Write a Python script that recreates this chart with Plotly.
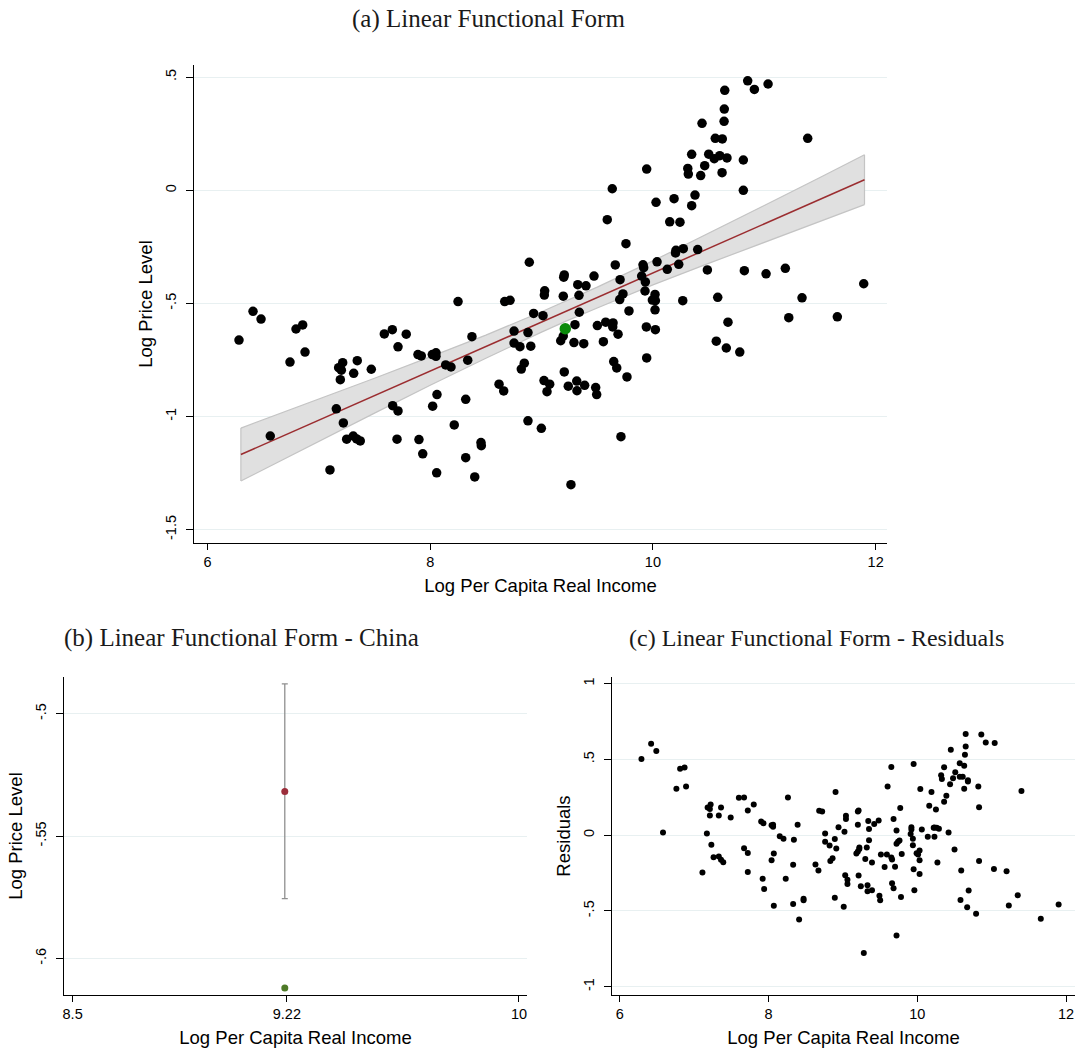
import plotly.graph_objects as go

# ---------------- Panel (a) data: log per capita real income vs log price level
income = [6.283, 6.409, 6.481, 6.564, 6.795, 6.855, 6.741, 6.876, 7.100, 7.157, 7.220, 7.250, 7.309, 7.340, 7.372,
          7.178, 7.214, 7.202, 7.193, 7.313, 7.345, 7.471, 7.588, 7.660, 7.785, 7.711, 7.663, 7.711, 7.702, 7.890,
          7.920, 8.019, 8.052, 8.052, 8.022, 8.061, 7.899, 7.933, 8.058, 8.890, 8.250, 8.669, 8.717, 9.204, 9.199,
          9.471, 9.325, 9.399, 9.028, 9.025, 9.195, 9.336, 9.662, 9.705, 9.911, 9.917, 9.899, 9.932, 10.037, 9.731,
          9.702, 9.929, 10.019, 9.995, 10.022, 10.019, 9.785, 8.929, 9.013, 9.339, 8.753, 8.878, 8.375, 9.300, 9.195,
          9.172, 9.501, 9.576, 9.642, 9.639, 9.687, 9.941, 10.022, 9.291, 9.379, 9.555, 8.753, 8.806, 8.903, 8.139,
          8.187, 8.337, 8.845, 8.818, 9.944, 9.648, 9.675, 9.767, 9.204, 8.618, 8.660, 9.022, 9.073, 9.049, 9.240,
          9.316, 9.318, 9.387, 9.486, 9.495, 8.319, 8.216, 8.878, 8.998, 9.713, 8.456, 8.459, 8.319, 8.400, 9.264,
          10.851, 10.911, 11.034, 10.645, 10.641, 10.639, 10.441, 10.560, 10.623, 10.348, 10.501, 10.551, 10.600,
          10.665, 10.812, 10.465, 10.313, 10.318, 10.429, 10.621, 9.944, 9.635, 10.812, 10.378, 10.190, 10.028,
          10.348, 9.590, 10.151, 10.243, 9.758, 10.207, 10.273, 10.402, 10.203, 10.129, 10.232, 10.489, 10.821,
          11.016, 11.189, 10.268, 10.582, 11.893, 11.339, 11.220, 11.656, 10.674, 10.569, 10.659, 10.780, 11.390]
price = [-0.662, -0.535, -0.569, -1.086, -0.613, -0.595, -0.759, -0.715, -1.236, -0.966, -1.028, -1.100, -1.086, -1.099,
         -1.108, -0.784, -0.762, -0.795, -0.837, -0.809, -0.753, -0.791, -0.635, -0.616, -0.636, -0.692, -0.952, -0.975,
         -1.100, -0.726, -0.732, -0.726, -0.718, -0.734, -0.954, -0.903, -1.102, -1.165, -1.249, -0.318, -0.492, -0.492,
         -0.486, -0.374, -0.384, -0.379, -0.417, -0.422, -0.444, -0.463, -0.468, -0.464, -0.330, -0.395, -0.329, -0.342,
         -0.379, -0.405, -0.316, -0.458, -0.483, -0.445, -0.460, -0.485, -0.488, -0.528, -0.533, -0.544, -0.554, -0.539,
         -0.622, -0.629, -0.647, -0.594, -0.644, -0.665, -0.598, -0.583, -0.586, -0.604, -0.636, -0.604, -0.616, -0.673,
         -0.678, -0.669, -0.675, -0.691, -0.689, -0.772, -0.781, -0.751, -0.764, -0.790, -0.741, -0.757, -0.785, -0.825,
         -0.803, -0.857, -0.887, -0.841, -0.857, -0.890, -0.866, -0.843, -0.886, -0.862, -0.872, -0.903, -0.924, -1.037,
         -1.019, -1.052, -1.089, -1.115, -1.129, -1.182, -1.267, -1.301, 0.484, 0.446, 0.470, 0.442, 0.359, 0.305,
         0.296, 0.230, 0.227, 0.159, 0.160, 0.140, 0.153, 0.143, 0.134, 0.109, 0.097, 0.072, 0.065, 0.078, 0.094, 0.007,
         0.000, -0.021, -0.037, -0.053, -0.068, -0.130, -0.139, -0.141, -0.236, -0.265, -0.258, -0.262, -0.277, -0.349,
         -0.327, -0.352, -0.355, -0.369, -0.345, -0.488, -0.473, -0.413, -0.475, -0.563, -0.559, -0.583, -0.667, -0.697,
         -0.715, 0.230]

# China (highlighted)
china_income = [9.213]
china_price = [-0.612]

# Fitted line with 95% confidence band
band_x = [6.3, 7.0, 7.5, 8.0, 8.5, 9.0, 9.22, 9.5, 10.0, 10.5, 11.0, 11.5, 11.9]
band_fit = [-1.168, -1.016, -0.908, -0.799, -0.691, -0.582, -0.534, -0.474, -0.365, -0.257, -0.148, -0.040, 0.047]
band_low = [-1.285, -1.109, -0.985, -0.862, -0.742, -0.627, -0.578, -0.520, -0.418, -0.323, -0.229, -0.137, -0.063]
band_high = [-1.051, -0.923, -0.831, -0.736, -0.640, -0.537, -0.490, -0.428, -0.312, -0.191, -0.067, 0.057, 0.157]

# ---------------- Panel (b): China prediction with CI
china_fit = [-0.5318]
china_ci_low = [-0.5755]
china_ci_high = [-0.4878]

# ---------------- Panel (c): residuals
resid_x = [6.29, 6.42, 6.49, 6.58, 6.76, 6.81, 6.87, 6.89, 7.11, 7.17, 7.18, 7.21, 7.22, 7.21, 7.23, 7.26, 7.33, 7.33,
           7.36, 7.39, 7.36, 7.49, 7.60, 7.67, 7.67, 7.72, 7.72, 7.72, 7.80, 7.90, 7.93, 7.92, 7.94, 8.04, 8.06, 8.06,
           8.04, 8.07, 8.07, 8.15, 8.20, 8.23, 8.26, 8.33, 8.34, 8.33, 8.39, 8.41, 8.47, 8.47, 8.63, 8.67, 8.68, 8.72,
           8.76, 8.76, 8.82, 8.83, 8.86, 8.89, 8.91, 8.90, 8.94, 8.89, 9.01, 9.02, 9.03, 9.06, 9.06, 9.04, 9.04, 9.18,
           9.20, 9.22, 9.22, 9.20, 9.20, 9.21, 9.21, 9.24, 9.28, 9.30, 9.32, 9.33, 9.33, 9.34, 9.35, 9.35, 9.39, 9.39,
           9.42, 9.48, 9.49, 9.50, 9.51, 9.56, 9.59, 9.60, 9.65, 9.65, 9.66, 9.66, 9.68, 9.68, 9.70, 9.72, 9.72, 9.74,
           9.76, 9.72, 9.77, 9.78, 9.79, 9.91, 9.92, 9.92, 9.94, 9.94, 9.95, 9.95, 9.96, 9.99, 10.01, 10.03, 10.03,
           10.03, 10.04, 10.06, 10.14, 10.16, 10.19, 10.22, 10.23, 10.26, 10.29, 10.23, 10.25, 10.27, 10.32, 10.33,
           10.36, 10.36, 10.39, 10.42, 10.44, 10.45, 10.48, 10.50, 10.51, 10.57, 10.57, 10.59, 10.58, 10.61, 10.63,
           10.63, 10.64, 10.65, 10.65, 10.67, 10.68, 10.68, 10.69, 10.79, 10.82, 10.83, 10.83, 10.86, 10.92, 11.03,
           11.04, 11.20, 11.23, 11.35, 11.40, 11.66, 11.90]
resid_y = [0.503, 0.603, 0.556, 0.018, 0.307, 0.439, 0.446, 0.322, -0.247, 0.011, 0.183, 0.172, 0.203, 0.130, -0.064,
           -0.146, 0.130, -0.141, -0.163, -0.179, 0.183, 0.117, 0.247, 0.249, -0.086, 0.163, -0.117, -0.243, 0.203,
           0.091, 0.079, -0.287, -0.355, 0.066, 0.068, 0.055, -0.166, -0.121, -0.466, -0.007, -0.024, -0.287, 0.249,
           -0.196, -0.031, -0.455, 0.068, -0.556, -0.419, -0.430, -0.194, -0.234, 0.161, 0.157, 0.011, -0.044, -0.068,
           -0.170, -0.152, -0.026, -0.088, 0.285, 0.053, -0.413, -0.472, 0.022, -0.265, -0.322, -0.294, 0.128, 0.106,
           -0.121, -0.108, -0.082, -0.091, 0.068, 0.157, 0.163, -0.267, -0.338, -0.777, -0.157, -0.082, -0.331, -0.371,
           0.093, 0.040, -0.033, -0.181, -0.364, 0.073, 0.097, -0.400, -0.430, -0.128, -0.210, -0.128, 0.322, 0.450,
           -0.148, -0.161, -0.318, 0.106, -0.351, -0.208, 0.031, -0.057, -0.044, -0.035, -0.662, 0.179, -0.408, -0.124,
           0.007, 0.053, 0.038, -0.024, -0.066, -0.225, 0.470, -0.364, -0.119, -0.128, -0.102, -0.166, -0.256, 0.305,
           0.038, -0.011, 0.194, 0.285, 0.049, 0.051, 0.049, 0.042, -0.011, 0.170, -0.181, 0.395, 0.371, 0.448, 0.221,
           0.260, 0.018, 0.336, 0.563, 0.375, -0.095, 0.415, 0.386, 0.475, -0.234, -0.428, 0.386, 0.459, 0.307, 0.530,
           0.585, 0.667, -0.475, 0.362, 0.355, -0.366, -0.519, 0.322, 0.185, -0.170, 0.664, 0.611, -0.223, 0.609,
           -0.238, -0.464, -0.397, 0.291, -0.552, -0.457]

# tick definitions
a_xticks = [6, 8, 10, 12]
a_yticks = [0.5, 0, -0.5, -1, -1.5]
a_ytext = [".5", "0", "-.5", "-1", "-1.5"]
b_xticks = [8.5, 9.22, 10]
b_xtext = ["8.5", "9.22", "10"]
b_yticks = [-0.5, -0.55, -0.6]
b_ytext = ["-.5", "-.55", "-.6"]
c_xticks = [6, 8, 10, 12]
c_yticks = [1, 0.5, 0, -0.5, -1]
c_ytext = ["1", ".5", "0", "-.5", "-1"]

W, H = 1084, 1053
SANS = "Liberation Sans, Arial, sans-serif"
SERIF = "Liberation Serif, Times New Roman, serif"
GRID = "#e8f0f1"
AX_TITLE = 18.5
TICK = 14.5
TITLE = 25

fig = go.Figure()

# panel (a)
fig.add_trace(go.Scatter(x=band_x, y=band_low, mode="lines", line=dict(color="#c4c4c4", width=1.2),
                         xaxis="x", yaxis="y", showlegend=False, hoverinfo="skip"))
fig.add_trace(go.Scatter(x=band_x, y=band_high, mode="lines", line=dict(color="#c4c4c4", width=1.2),
                         fill="tonexty", fillcolor="#e0e0e0", xaxis="x", yaxis="y", showlegend=False,
                         hoverinfo="skip"))
fig.add_trace(go.Scatter(x=[band_x[0], band_x[0]], y=[band_low[0], band_high[0]], mode="lines",
                         line=dict(color="#c4c4c4", width=1.2), xaxis="x", yaxis="y", showlegend=False))
fig.add_trace(go.Scatter(x=[band_x[-1], band_x[-1]], y=[band_low[-1], band_high[-1]], mode="lines",
                         line=dict(color="#c4c4c4", width=1.2), xaxis="x", yaxis="y", showlegend=False))
fig.add_trace(go.Scatter(x=band_x, y=band_fit, mode="lines", line=dict(color="#9b2d30", width=1.5),
                         xaxis="x", yaxis="y", showlegend=False))
fig.add_trace(go.Scatter(x=income, y=price, mode="markers", marker=dict(color="black", size=9.5),
                         xaxis="x", yaxis="y", showlegend=False))
fig.add_trace(go.Scatter(x=china_income, y=china_price, mode="markers", marker=dict(color="#0a8a0a", size=11.5),
                         xaxis="x", yaxis="y", showlegend=False))

# panel (b)
fig.add_trace(go.Scatter(
    x=china_income, y=china_fit, mode="markers",
    marker=dict(color="#9b2d3a", size=7),
    error_y=dict(type="data", symmetric=False,
                 array=[china_ci_high[0] - china_fit[0]],
                 arrayminus=[china_fit[0] - china_ci_low[0]],
                 color="#8f8f8f", thickness=1.3, width=3),
    xaxis="x2", yaxis="y2", showlegend=False))
fig.add_trace(go.Scatter(x=china_income, y=china_price, mode="markers", marker=dict(color="#4e7a27", size=7),
                         xaxis="x2", yaxis="y2", showlegend=False))

# panel (c)
fig.add_trace(go.Scatter(x=resid_x, y=resid_y, mode="markers", marker=dict(color="black", size=6),
                         xaxis="x3", yaxis="y3", showlegend=False))


def xax(domain, rng, tickvals, anchor, ticktext=None):
    d = dict(domain=domain, range=rng, tickvals=tickvals, showgrid=False, zeroline=False, anchor=anchor,
             showline=True, linecolor="black", linewidth=1, ticks="outside", ticklen=6, tickcolor="black",
             tickfont=dict(family=SANS, size=TICK, color="black"),
             title=dict(text="Log Per Capita Real Income", font=dict(family=SANS, size=AX_TITLE, color="black"),
                        standoff=9))
    if ticktext:
        d["ticktext"] = ticktext
    return d


def yax(domain, rng, tickvals, ticktext, title, anchor):
    return dict(domain=domain, range=rng, tickvals=tickvals, ticktext=ticktext, tickangle=-90,
                showgrid=True, gridcolor=GRID, gridwidth=1, zeroline=False, anchor=anchor,
                showline=True, linecolor="black", linewidth=1, ticks="outside", ticklen=7, tickcolor="black",
                ticklabelstandoff=4,
                tickfont=dict(family=SANS, size=TICK, color="black"),
                title=dict(text=title, font=dict(family=SANS, size=AX_TITLE, color="black"), standoff=5))


fig.update_layout(
    width=W, height=H,
    margin=dict(l=0, r=0, t=0, b=0),
    paper_bgcolor="white", plot_bgcolor="white",
    xaxis=xax([194 / W, 887 / W], [5.879, 12.102], a_xticks, "y"),
    yaxis=yax([1 - 543 / H, 1 - 65 / H], [-1.559, 0.554], a_yticks, a_ytext, "Log Price Level", "x"),
    xaxis2=xax([64 / W, 527 / W], [8.471, 10.027], b_xticks, "y2", b_xtext),
    yaxis2=yax([1 - 995 / H, 1 - 677 / H], [-0.6149, -0.485], b_yticks, b_ytext, "Log Price Level", "x2"),
    xaxis3=xax([612 / W, 1075 / W], [5.894, 12.12], c_xticks, "y3"),
    yaxis3=yax([1 - 995 / H, 1 - 677 / H], [-1.055, 1.044], c_yticks, c_ytext, "Residuals", "x3"),
    annotations=[
        dict(text="(a) Linear Functional Form", x=488 / W, y=1 - 19 / H, xref="paper", yref="paper",
             xanchor="center", yanchor="middle", showarrow=False,
             font=dict(family=SERIF, size=TITLE, color="#1a1a1a")),
        dict(text="(b) Linear Functional Form - China", x=62 / W, y=1 - 638 / H, xref="paper", yref="paper",
             xanchor="left", yanchor="middle", showarrow=False,
             font=dict(family=SERIF, size=TITLE, color="#1a1a1a")),
        dict(text="(c) Linear Functional Form - Residuals", x=627 / W, y=1 - 638 / H, xref="paper",
             yref="paper", xanchor="left", yanchor="middle", showarrow=False,
             font=dict(family=SERIF, size=24, color="#1a1a1a")),
    ],
)

fig.write_html("out.html", config={"displayModeBar": False},
               post_script="document.body.style.margin='0px';document.body.style.padding='0px';")
